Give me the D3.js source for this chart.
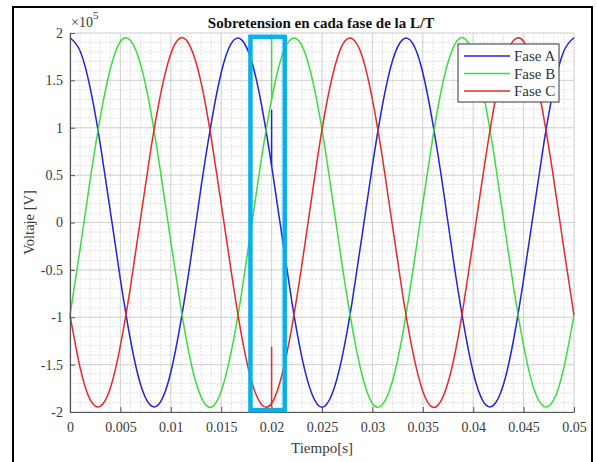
<!DOCTYPE html>
<html lang="en">
<head>
<meta charset="UTF-8">
<title>Sobretension</title>
<style>
  body { margin: 0; background: #fff; }
  svg { display: block; }
  text { font-family: "Liberation Serif", "Times New Roman", serif; }
</style>
</head>
<body>
<div id="chart"></div>
<script src="https://d3js.org/d3.v7.min.js"></script>
<script>
// tiempo de muestreo [s]
const timeS = [0, 0.001, 0.002, 0.003, 0.004, 0.005, 0.006, 0.007, 0.008, 0.009,
  0.010, 0.011, 0.012, 0.013, 0.014, 0.015, 0.016, 0.017, 0.018, 0.019,
  0.020, 0.021, 0.022, 0.023, 0.024, 0.025, 0.026, 0.027, 0.028, 0.029,
  0.030, 0.031, 0.032, 0.033, 0.034, 0.035, 0.036, 0.037, 0.038, 0.039,
  0.040, 0.041, 0.042, 0.043, 0.044, 0.045, 0.046, 0.047, 0.048, 0.049, 0.050]

// voltajes (x10^5 V)
const faseA = [1.95, 1.81, 1.42, 0.83, 0.12, -0.60, -1.24, -1.71, -1.93, -1.89,
  -1.58, -1.04, -0.37, 0.37, 1.04, 1.58, 1.89, 1.93, 1.71, 1.24,
  0.60, -0.12, -0.83, -1.42, -1.81, -1.95, -1.81, -1.42, -0.83, -0.12,
  0.60, 1.24, 1.71, 1.93, 1.89, 1.58, 1.04, 0.37, -0.37, -1.04,
  -1.58, -1.89, -1.93, -1.71, -1.24, -0.60, 0.12, 0.83, 1.42, 1.81, 1.95]
const faseB = [-0.98, -0.28, 0.45, 1.11, 1.62, 1.91, 1.92, 1.67, 1.18, 0.52,
  -0.20, -0.90, -1.48, -1.84, -1.95, -1.78, -1.36, -0.76, -0.04, 0.68,
  1.30, 1.75, 1.94, 1.87, 1.53, 0.98, 0.28, -0.45, -1.11, -1.62,
  -1.91, -1.92, -1.67, -1.18, -0.52, 0.20, 0.90, 1.48, 1.84, 1.95,
  1.78, 1.36, 0.76, 0.04, -0.68, -1.30, -1.75, -1.94, -1.87, -1.53, -0.98]
const faseC = [-0.98, -1.53, -1.87, -1.94, -1.75, -1.30, -0.68, 0.04, 0.76, 1.36,
  1.78, 1.95, 1.84, 1.48, 0.90, 0.20, -0.52, -1.18, -1.67, -1.92,
  -1.91, -1.62, -1.11, -0.45, 0.28, 0.98, 1.53, 1.87, 1.94, 1.75,
  1.30, 0.68, -0.04, -0.76, -1.36, -1.78, -1.95, -1.84, -1.48, -0.90,
  -0.20, 0.52, 1.18, 1.67, 1.92, 1.91, 1.62, 1.11, 0.45, -0.28, -0.98]

// sobretension en t = 0.02 s: [desde, hasta]
const spikeT = 0.02
const spikeA = [0.60, 1.19]
const spikeB = [1.30, 1.94]
const spikeC = [-1.95, -1.31]

const names = ['Fase A', 'Fase B', 'Fase C']
const colors = ['#2323d8', '#3fdc3f', '#e42a2a']

const xTicks = [0, 0.005, 0.01, 0.015, 0.02, 0.025, 0.03, 0.035, 0.04, 0.045, 0.05]
const yTicks = [-2, -1.5, -1, -0.5, 0, 0.5, 1, 1.5, 2]

// zona resaltada
const highlightT = [0.0179, 0.0213]
const highlightV = [1.96, -1.98]

const width = 597
const height = 462
const svg = d3.select('#chart').append('svg')
  .attr('width', width)
  .attr('height', height)

svg.append('rect').attr('width', width).attr('height', height).attr('fill', '#fff')
// marco de la figura
svg.append('rect')
  .attr('x', 13).attr('y', 7)
  .attr('width', 579).attr('height', 470)
  .attr('fill', 'none').attr('stroke', '#000').attr('stroke-width', 2)

const x = d3.scaleLinear().domain([0, 0.05]).range([70, 574])
const y = d3.scaleLinear().domain([-2, 2]).range([412, 33])

// grid menor
const grid = svg.append('g')
grid.selectAll('.mx').data(x.ticks(50)).enter().append('line')
  .attr('x1', d => x(d)).attr('x2', d => x(d))
  .attr('y1', y(-2)).attr('y2', y(2))
  .attr('stroke', '#d2d2d2').attr('stroke-width', 0.7).attr('stroke-dasharray', '2,1.5')
grid.selectAll('.my').data(y.ticks(40)).enter().append('line')
  .attr('x1', x(0)).attr('x2', x(0.05))
  .attr('y1', d => y(d)).attr('y2', d => y(d))
  .attr('stroke', '#d2d2d2').attr('stroke-width', 0.7).attr('stroke-dasharray', '2,1.5')
// grid mayor
grid.selectAll('.gx').data(xTicks).enter().append('line')
  .attr('x1', d => x(d)).attr('x2', d => x(d))
  .attr('y1', y(-2)).attr('y2', y(2))
  .attr('stroke', '#cdcdcd').attr('stroke-width', 0.8)
grid.selectAll('.gy').data(yTicks).enter().append('line')
  .attr('x1', x(0)).attr('x2', x(0.05))
  .attr('y1', d => y(d)).attr('y2', d => y(d))
  .attr('stroke', '#cdcdcd').attr('stroke-width', 0.8)

// curvas
const series = [faseA, faseB, faseC]
const spikes = [spikeA, spikeB, spikeC]
const line = d3.line()
  .x((d, i) => x(timeS[i]))
  .y(d => y(d))
  .curve(d3.curveNatural)

series.forEach((s, i) => {
  svg.append('path')
    .attr('d', line(s))
    .attr('fill', 'none')
    .attr('stroke', colors[i])
    .attr('stroke-width', 1.5)
  svg.append('line')
    .attr('x1', x(spikeT)).attr('x2', x(spikeT))
    .attr('y1', y(spikes[i][0])).attr('y2', y(spikes[i][1]))
    .attr('stroke', colors[i])
    .attr('stroke-width', 1.5)
})

// ejes
const axisColor = '#555'
const xAxis = svg.append('g')
  .attr('transform', `translate(0, ${y(-2)})`)
  .call(d3.axisBottom(x).tickValues(xTicks).tickSize(-5).tickSizeOuter(0)
    .tickPadding(10).tickFormat(d => String(d)))
const yAxis = svg.append('g')
  .attr('transform', `translate(${x(0)}, 0)`)
  .call(d3.axisLeft(y).tickValues(yTicks).tickSize(-5).tickSizeOuter(0)
    .tickPadding(7).tickFormat(d => String(d)))

;[xAxis, yAxis].forEach(g => {
  g.select('.domain').attr('stroke', axisColor).attr('stroke-width', 1.2)
  g.selectAll('.tick line').attr('stroke', axisColor).attr('stroke-width', 1)
  g.selectAll('.tick text')
    .attr('fill', '#3a3a3a')
    .style('font-family', '"Liberation Serif", serif')
    .style('font-size', '14px')
})

// textos
svg.append('text')
  .attr('x', 321).attr('y', 28)
  .attr('text-anchor', 'middle')
  .style('font-size', '15px').style('font-weight', 'bold')
  .attr('fill', '#111')
  .text('Sobretension en cada fase de la L/T')

const exp = svg.append('text')
  .attr('x', 71).attr('y', 27)
  .attr('fill', '#3a3a3a')
  .style('font-size', '14px')
exp.append('tspan').text('×10')
exp.append('tspan').attr('dy', -8).style('font-size', '11px').text('5')

svg.append('text')
  .attr('transform', `translate(34, ${y(0)}) rotate(-90)`)
  .attr('text-anchor', 'middle')
  .attr('fill', '#3a3a3a')
  .style('font-size', '14.5px')
  .text('Voltaje [V]')

svg.append('text')
  .attr('x', 322).attr('y', 453)
  .attr('text-anchor', 'middle')
  .attr('fill', '#3a3a3a')
  .style('font-size', '15px')
  .text('Tiempo[s]')

// leyenda
const legend = svg.append('g')
legend.append('rect')
  .attr('x', 458).attr('y', 44)
  .attr('width', 101).attr('height', 58)
  .attr('fill', '#fff')
  .attr('stroke', '#555').attr('stroke-width', 1.2)
names.forEach((n, i) => {
  const ly = 56 + i * 17.5
  legend.append('line')
    .attr('x1', 464).attr('x2', 510)
    .attr('y1', ly).attr('y2', ly)
    .attr('stroke', colors[i]).attr('stroke-width', 1.5)
  legend.append('text')
    .attr('x', 514).attr('y', ly + 5)
    .attr('fill', '#333')
    .style('font-size', '15px')
    .text(n)
})

// rectangulo resaltado
svg.append('rect')
  .attr('x', x(highlightT[0]))
  .attr('y', y(highlightV[0]))
  .attr('width', x(highlightT[1]) - x(highlightT[0]))
  .attr('height', y(highlightV[1]) - y(highlightV[0]))
  .attr('fill', 'none')
  .attr('stroke', '#0ab0ec')
  .attr('stroke-width', 4.5)
</script>
</body>
</html>
